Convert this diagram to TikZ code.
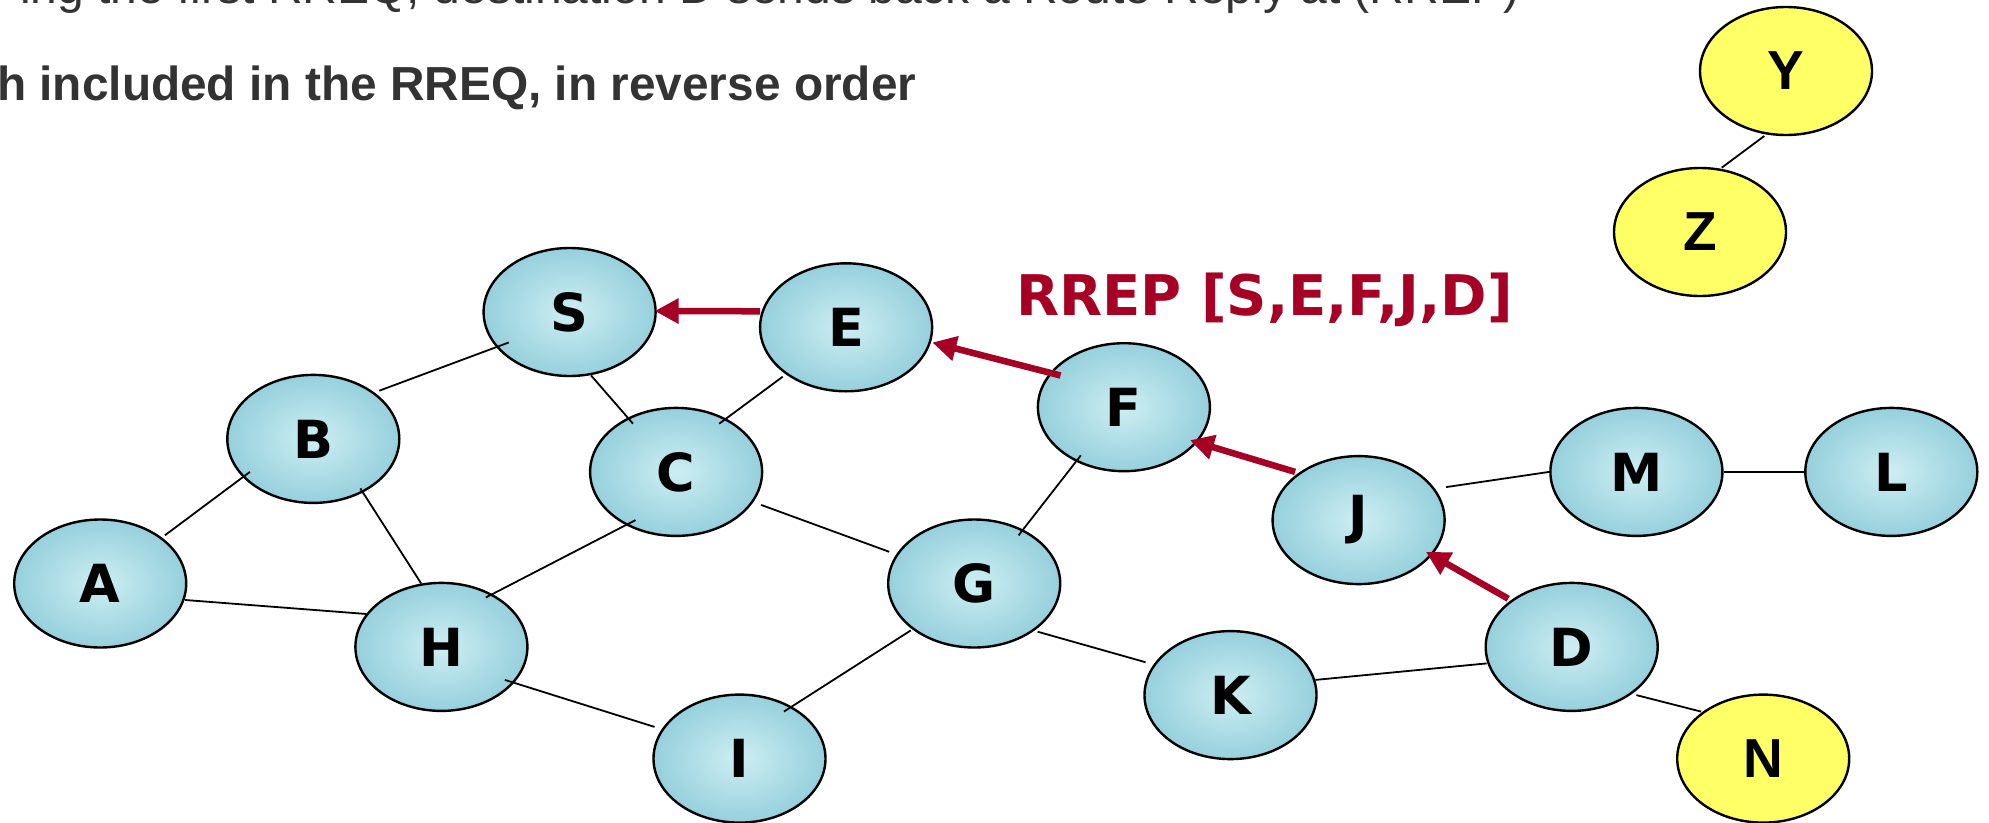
\documentclass[tikz,border=0pt]{standalone}
\usepackage{fontspec}
\setmainfont{Liberation Sans}
\newfontfamily\nodefont{DejaVu Sans}
\usetikzlibrary{calc,arrows.meta,shapes.geometric}
\definecolor{rrep}{RGB}{166,0,36}
\definecolor{txtgray}{RGB}{51,51,51}
\definecolor{nodeyel}{RGB}{255,255,102}
\definecolor{bluein}{RGB}{205,238,243}
\definecolor{blueout}{RGB}{150,208,220}
\tikzset{
  mnode/.style={ellipse, draw=black, line width=2.4bp, minimum width=172bp,
    minimum height=128bp, inner sep=0pt},
  bluenode/.style={mnode, inner color=bluein, outer color=blueout,
    font=\nodefont\bfseries\fontsize{52.5bp}{60bp}\selectfont},
  yelnode/.style={mnode, fill=nodeyel,
    font=\bfseries\fontsize{55bp}{60bp}\selectfont},
  link/.style={draw=black, line width=1.8bp},
  rarrow/.style={draw=rrep, line width=6.5bp, -{Triangle[length=24bp,width=24bp]}},
  toptext/.style={anchor=base west, text=txtgray, inner sep=0pt}
}
\begin{document}
\begin{tikzpicture}[x=1bp, y=-1bp]
\useasboundingbox (0,0) rectangle (1989,823);
\clip (0,0) rectangle (1989,823);
% text
\node[toptext, font=\fontsize{48bp}{56bp}\selectfont] (t1) at (20,3)
  {ing the first RREQ, destination D sends back a Route Reply at (RREP)};
\node[toptext, font=\bfseries\fontsize{47.8bp}{56bp}\selectfont] (t2) at (-3,100)
  {h included in the RREQ, in reverse order};
\node[anchor=base west, text=rrep, inner sep=0pt,
  font=\nodefont\bfseries\fontsize{56bp}{60bp}\selectfont] (lbl) at (1016,315.6)
  {RREP [S,E,F,J,D]};
% nodes
\node[bluenode] (S) at (569.6,312.0) {S};
\node[bluenode] (E) at (846.1,327.3) {E};
\node[bluenode] (B) at (313.3,438.9) {B};
\node[bluenode] (C) at (676.1,471.9) {C};
\node[bluenode] (F) at (1123.9,407.2) {F};
\node[bluenode] (A) at (100.2,583.5) {A};
\node[bluenode] (H) at (441.4,646.9) {H};
\node[bluenode] (G) at (974.2,583.5) {G};
\node[bluenode] (J) at (1358.6,520.1) {J};
\node[bluenode] (M) at (1636.4,471.9) {M};
\node[bluenode] (L) at (1891.3,471.9) {L};
\node[bluenode] (D) at (1571.7,646.9) {D};
\node[bluenode] (K) at (1230.5,695.1) {K};
\node[bluenode] (I) at (739.5,758.6) {I};
\node[yelnode] (N) at (1763.2,758.6) {N};
\node[yelnode] (Y) at (1786,71) {Y};
\node[yelnode] (Z) at (1700,232) {Z};
% links
\draw[link] ($(B)+(66,-48.2)$) -- ($(S)+(-60.9,30.5)$);
\draw[link] ($(S)+(21.5,63.5)$) -- ($(C)+(-43.1,-48.2)$);
\draw[link] ($(C)+(43.1,-48.2)$) -- ($(E)+(-63.4,49.4)$);
\draw[link] ($(A)+(64.7,-48.2)$) -- ($(B)+(-63.4,33)$);
\draw[link] ($(B)+(47,49.5)$) -- ($(H)+(-20.2,-63.4)$);
\draw[link] ($(A)+(85,16.5)$) -- ($(H)+(-74.8,-32.9)$);
\draw[link] ($(H)+(44.4,-49.4)$) -- ($(C)+(-40.6,48.2)$);
\draw[link] ($(C)+(85,33)$) -- ($(G)+(-85,-31.7)$);
\draw[link] ($(G)+(44.4,-48.2)$) -- ($(F)+(-43.1,48.2)$);
\draw[link] ($(H)+(63.5,33)$) -- ($(I)+(-85,-31.7)$);
\draw[link] ($(I)+(44.4,-47)$) -- ($(G)+(-63.4,46.9)$);
\draw[link] ($(G)+(63.4,48.2)$) -- ($(K)+(-85,-32.9)$);
\draw[link] ($(K)+(84.9,-15.2)$) -- ($(D)+(-85,16.5)$);
\draw[link] ($(J)+(87.5,-33)$) -- (M.west);
\draw[link] (M.east) -- (L.west);
\draw[link] ($(D)+(64.7,48.2)$) -- ($(N)+(-62.1,-47)$);
\draw[link] ($(Y)+(-21.7,65)$) -- ($(Z)+(21.7,-64.3)$);
% reply arrows
\draw[rarrow] ($(E)+(-86,-16)$) -- ($(S)+(85,-1)$);
\draw[rarrow] ($(F)+(-63.4,-31.7)$) -- ($(E)+(86.2,15.2)$);
\draw[rarrow] ($(J)+(-63.5,-48.2)$) -- ($(F)+(66,33)$);
\draw[rarrow] ($(D)+(-63.5,-48.2)$) -- ($(J)+(67.2,31.7)$);
\end{tikzpicture}
\end{document}
